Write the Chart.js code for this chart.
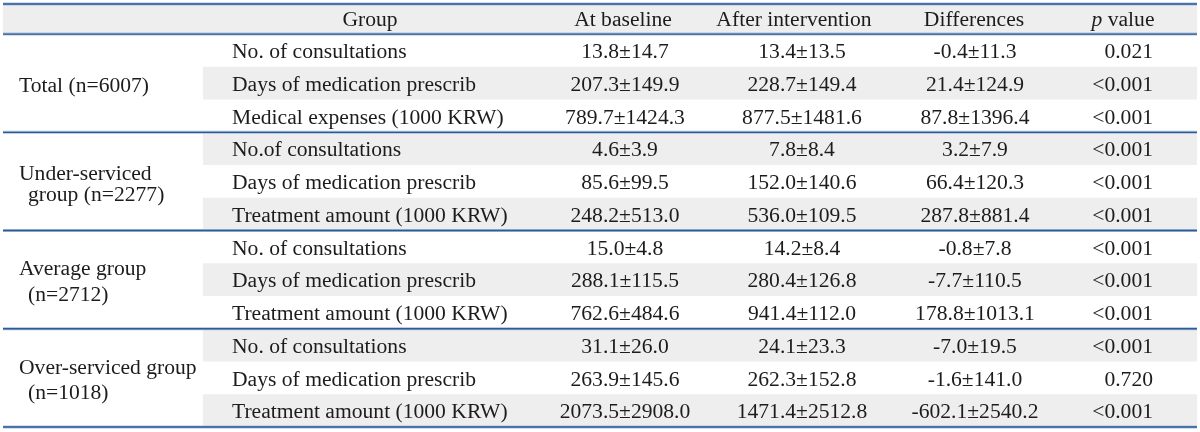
<!DOCTYPE html>
<html><head><meta charset="utf-8">
<script src="https://cdn.jsdelivr.net/npm/chart.js@4/dist/chart.umd.min.js"></script>
<style>html,body{margin:0;padding:0;background:#fff}#wrap{width:1200px;height:432px;position:relative}</style>
</head><body><div id="wrap"><canvas id="c"></canvas></div>
<script>
// ---- data ----
const headers = ["Group", "At baseline", "After intervention", "Differences", "p value"];
const groupLabels = [["Total (n=6007)"], ["Under-serviced", "group (n=2277)"], ["Average group", "(n=2712)"], ["Over-serviced group", "(n=1018)"]];
const items = [
  "No. of consultations", "Days of medication prescrib", "Medical expenses (1000 KRW)",
  "No.of consultations", "Days of medication prescrib", "Treatment amount (1000 KRW)",
  "No. of consultations", "Days of medication prescrib", "Treatment amount (1000 KRW)",
  "No. of consultations", "Days of medication prescrib", "Treatment amount (1000 KRW)"
];
const baselineMean = [13.8, 207.3, 789.7, 4.6, 85.6, 248.2, 15.0, 288.1, 762.6, 31.1, 263.9, 2073.5];
const baselineSD   = [14.7, 149.9, 1424.3, 3.9, 99.5, 513.0, 4.8, 115.5, 484.6, 26.0, 145.6, 2908.0];
const afterMean    = [13.4, 228.7, 877.5, 7.8, 152.0, 536.0, 14.2, 280.4, 941.4, 24.1, 262.3, 1471.4];
const afterSD      = [13.5, 149.4, 1481.6, 8.4, 140.6, 109.5, 8.4, 126.8, 112.0, 23.3, 152.8, 2512.8];
const diffMean     = [-0.4, 21.4, 87.8, 3.2, 66.4, 287.8, -0.8, -7.7, 178.8, -7.0, -1.6, -602.1];
const diffSD       = [11.3, 124.9, 1396.4, 7.9, 120.3, 881.4, 7.8, 110.5, 1013.1, 19.5, 141.0, 2540.2];
const pValues = ["0.021", "<0.001", "<0.001", "<0.001", "<0.001", "<0.001", "<0.001", "<0.001", "<0.001", "<0.001", "0.720", "<0.001"];
const rowsPerGroup = 3;

// ---- layout (table units: x in table width units, y in row units) ----
const X_LEFT = 3, X_RIGHT = 1197, X_ITEMS = 203;
const HEADER_TOP = -0.92;
const nRows = items.length;
const FONT = "'Liberation Serif', 'Times New Roman', serif";
const FONT_SIZE = 21.6;
const TEXT_COLOR = "#1e1b1c";
const SHADE = "#eeeeee";
const RULE = "#2d5a94";
const RULE_HALO = "#a7bfdc";
const headerX = [370, 623, 794, 974, 1123];
const colX = { item: 232, baseline: 625, after: 802, diff: 975, pRight: 1153 };
const groupX = 19, groupIndent = 9;
const groupLineGaps = [0, 0.64, 0.8, 0.76];

const fmt = (m, s) => m.toFixed(1) + "\u00b1" + s.toFixed(1);

// ---- datasets ----
const datasets = [];
datasets.push({ type: 'line', order: 10, data: [{x: X_LEFT, y: HEADER_TOP}, {x: X_RIGHT, y: HEADER_TOP}],
  fill: {value: 0}, backgroundColor: SHADE, borderWidth: 0, pointRadius: 0 });
items.forEach((_, r) => {
  if (r % 2 === 1) {
    datasets.push({ type: 'line', order: 10, data: [{x: X_ITEMS, y: r}, {x: X_RIGHT, y: r}],
      fill: {value: r + 1}, backgroundColor: SHADE, borderWidth: 0, pointRadius: 0 });
  }
});
const ruleYs = [HEADER_TOP, 0];
for (let g = 1; g <= groupLabels.length; g++) ruleYs.push(g * rowsPerGroup);
ruleYs.forEach(y => {
  datasets.push({ type: 'line', order: 2, data: [{x: X_LEFT, y}, {x: X_RIGHT, y}],
    borderColor: RULE_HALO, borderWidth: 3, pointRadius: 0, fill: false });
  datasets.push({ type: 'line', order: 1, data: [{x: X_LEFT, y}, {x: X_RIGHT, y}],
    borderColor: RULE, borderWidth: 1.4, pointRadius: 0, fill: false });
});

const textPlugin = {
  id: 'tableText',
  afterDatasetsDraw(chart) {
    const {ctx, scales: {x, y}} = chart;
    ctx.save();
    ctx.fillStyle = TEXT_COLOR;
    ctx.textBaseline = 'middle';
    const normal = FONT_SIZE + "px " + FONT;
    const italic = "italic " + FONT_SIZE + "px " + FONT;
    ctx.font = normal;
    const hy = y.getPixelForValue(HEADER_TOP / 2) + 1.5;
    headers.forEach((h, i) => {
      if (h === "p value") {
        ctx.font = italic;
        const wp = ctx.measureText("p").width;
        ctx.font = normal;
        const wr = ctx.measureText(" value").width;
        const start = x.getPixelForValue(headerX[i]) - (wp + wr) / 2;
        ctx.textAlign = 'left';
        ctx.font = italic;
        ctx.fillText("p", start, hy);
        ctx.font = normal;
        ctx.fillText(" value", start + wp, hy);
      } else {
        ctx.textAlign = 'center';
        ctx.fillText(h, x.getPixelForValue(headerX[i]), hy);
      }
    });
    items.forEach((it, r) => {
      const py = y.getPixelForValue(r + 0.5) + 2;
      ctx.textAlign = 'left';
      ctx.fillText(it, x.getPixelForValue(colX.item), py);
      ctx.textAlign = 'center';
      ctx.fillText(fmt(baselineMean[r], baselineSD[r]), x.getPixelForValue(colX.baseline), py);
      ctx.fillText(fmt(afterMean[r], afterSD[r]), x.getPixelForValue(colX.after), py);
      ctx.fillText(fmt(diffMean[r], diffSD[r]), x.getPixelForValue(colX.diff), py);
      ctx.textAlign = 'right';
      ctx.fillText(pValues[r], x.getPixelForValue(colX.pRight), py);
    });
    groupLabels.forEach((lines, g) => {
      const mid = g * rowsPerGroup + rowsPerGroup / 2;
      ctx.textAlign = 'left';
      lines.forEach((ln, k) => {
        const off = (k - (lines.length - 1) / 2) * groupLineGaps[g];
        const px = x.getPixelForValue(groupX + (k > 0 ? groupIndent : 0));
        ctx.fillText(ln, px, y.getPixelForValue(mid + off) + 3);
      });
    });
    ctx.restore();
  }
};

new Chart(document.getElementById('c'), {
  type: 'line',
  data: { datasets },
  options: {
    responsive: true, maintainAspectRatio: false, animation: false,
    layout: { padding: 0 },
    plugins: { legend: { display: false }, tooltip: { enabled: false } },
    scales: {
      x: { type: 'linear', min: 0, max: 1200, display: false },
      y: { type: 'linear', min: HEADER_TOP - 4 / 32.74, max: nRows + 5 / 32.74, reverse: true, display: false }
    }
  },
  plugins: [textPlugin]
});
</script>
</body></html>
